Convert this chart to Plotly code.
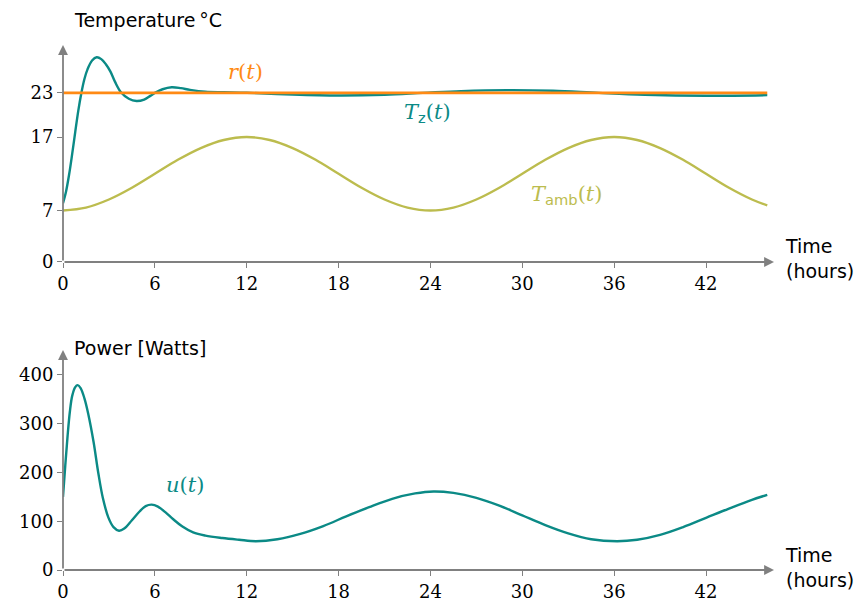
import plotly.graph_objects as go
from plotly.subplots import make_subplots

# ---------------- data ----------------
t_tz = [0, 0.2, 0.4, 0.6, 0.8, 1.0, 1.2, 1.4, 1.6, 1.9, 2.2, 2.5, 2.8, 3.1, 3.4, 3.8, 4.3, 4.8, 5.3, 5.7, 6.0, 6.5, 7.1, 7.7, 8.3, 9.3, 10.5, 12.0,
        15, 18, 21, 23.5, 26, 29, 32, 35, 38, 42, 46]
tz = [8.0, 9.6, 11.9, 14.7, 17.7, 20.6, 23.0, 24.9, 26.2, 27.4, 27.85, 27.6, 26.9, 25.9, 24.5, 23.05, 22.2, 21.9, 22.1, 22.6, 23.0, 23.5, 23.77, 23.65, 23.42, 23.17, 23.1, 23.03,
      22.78, 22.65, 22.75, 23.0, 23.25, 23.38, 23.3, 23.0, 22.75, 22.62, 22.7]

t_amb = [0, 1.5, 3, 4.5, 6, 7.5, 9, 10.5, 12, 13.5, 15, 16.5, 18, 19.5, 21, 22.5, 24,
         25.5, 27, 28.5, 30, 31.5, 33, 34.5, 36, 37.5, 39, 40.5, 42, 43.5, 45, 46]
tamb = [7.0, 7.4, 8.5, 10.1, 12.0, 13.9, 15.5, 16.6, 17.0, 16.6, 15.5, 13.9, 12.0, 10.1, 8.5, 7.4, 7.0,
        7.4, 8.5, 10.1, 12.0, 13.9, 15.5, 16.6, 17.0, 16.6, 15.5, 13.9, 12.0, 10.1, 8.5, 7.7]

t_r = [0, 46]
r = [23, 23]

t_u = [0, 0.15, 0.3, 0.45, 0.6, 0.8, 0.96, 1.15, 1.4, 1.65, 2.0, 2.3, 2.6, 2.96, 3.3, 3.66, 4.0, 4.5, 5.0, 5.4, 5.79, 6.2, 6.7, 7.2, 7.8, 8.5, 9.3, 10.4, 11.5, 12.6,
       14, 15.5, 17, 18.5, 20, 21.5, 23, 24.2, 25.5, 27, 28.5, 30, 31.5, 33, 34.5, 36.2, 37.5, 39, 40.5, 42, 43.5, 45, 46]
u = [150, 215, 275, 325, 357, 375, 379, 373, 352, 320, 262, 200, 148, 108, 88, 80.6, 85, 102, 120, 131, 134, 130, 118, 104, 89, 77, 70.5, 65.6, 62, 59,
     63, 74, 90, 110, 129, 146, 157, 161, 158, 148, 132, 112, 92, 75, 63, 59, 62, 72, 88, 107, 126, 144, 154]

x_ticks = [0, 6, 12, 18, 24, 30, 36, 42]
temp_ticks = [0, 7, 17, 23]
power_ticks = [0, 100, 200, 300, 400]

# ---------------- style ----------------
TEAL = "#0b8a86"
ORANGE = "#ff8a14"
OLIVE = "#bcbc4e"
GRAY = "#808080"
SERIF = "DejaVu Serif"
SANS = "DejaVu Sans"
XMAX = 46.44
Y1MAX = 29.52
Y2MAX = 451

fig = make_subplots(rows=2, cols=1, vertical_spacing=0.0)

spl = dict(shape="spline", smoothing=1.0)
fig.add_trace(go.Scatter(x=t_amb, y=tamb, mode="lines", line=dict(color=OLIVE, width=2.4, **spl)), row=1, col=1)
fig.add_trace(go.Scatter(x=t_tz, y=tz, mode="lines", line=dict(color=TEAL, width=2.4, **spl)), row=1, col=1)
fig.add_trace(go.Scatter(x=t_r, y=r, mode="lines", line=dict(color=ORANGE, width=2.6)), row=1, col=1)
fig.add_trace(go.Scatter(x=t_u, y=u, mode="lines", line=dict(color=TEAL, width=2.4, **spl)), row=2, col=1)

common_x = dict(range=[0, XMAX], tickvals=x_ticks, ticks="outside", ticklen=5, tickcolor=GRAY, tickwidth=1.3,
                showgrid=False, zeroline=False, showline=False, automargin=False,
                tickfont=dict(family=SERIF, size=18, color="black"))
common_y = dict(ticks="outside", ticklen=5, tickcolor=GRAY, tickwidth=1.3,
                showgrid=False, zeroline=False, showline=False, automargin=False,
                tickfont=dict(family=SERIF, size=18, color="black"))

fig.update_layout(
    width=856, height=603,
    margin=dict(l=63, r=82, t=45, b=33, autoexpand=False),
    plot_bgcolor="white", paper_bgcolor="white",
    showlegend=False,
    xaxis=dict(domain=[0, 1], anchor="y", **common_x),
    yaxis=dict(domain=[0.5867, 1], anchor="x", range=[0, Y1MAX], tickvals=temp_ticks, **common_y),
    xaxis2=dict(domain=[0, 1], anchor="y2", **common_x),
    yaxis2=dict(domain=[0, 0.419], anchor="x2", range=[0, Y2MAX], tickvals=power_ticks, **common_y),
)

ann = []
# axis arrows
for xr, yr, ytop in [("x", "y", Y1MAX), ("x2", "y2", Y2MAX)]:
    ann.append(dict(x=XMAX, y=0, ax=0, ay=0, xref=xr, yref=yr, axref=xr, ayref=yr,
                    showarrow=True, arrowhead=2, arrowsize=1.1, arrowwidth=1.8, arrowcolor=GRAY, text="", standoff=0))
    ann.append(dict(x=0, y=ytop, ax=0, ay=0, xref=xr, yref=yr, axref=xr, ayref=yr,
                    showarrow=True, arrowhead=2, arrowsize=1.1, arrowwidth=1.8, arrowcolor=GRAY, text="", standoff=0))
    ann.append(dict(x=XMAX, y=0, xref=xr, yref=yr, text="Time<br>(hours)", showarrow=False,
                    xanchor="left", yanchor="middle", align="left", xshift=9, yshift=3,
                    font=dict(family=SANS, size=19, color="black")))

ann.append(dict(x=0, y=Y1MAX, xref="x", yref="y", text="Temperature\u2009\u00b0C", showarrow=False,
                xanchor="left", yanchor="middle", xshift=9, yshift=25,
                font=dict(family=SANS, size=19, color="black")))
ann.append(dict(x=0, y=Y2MAX, xref="x2", yref="y2", text="Power [Watts]", showarrow=False,
                xanchor="left", yanchor="middle", xshift=9, yshift=2,
                font=dict(family=SANS, size=19, color="black")))

# series labels
LBL = 21
ann.append(dict(x=11.9, y=25.85, xref="x", yref="y", showarrow=False,
                text="<i>r</i>(<i>t</i>)", font=dict(family=SERIF, size=LBL, color=ORANGE)))
ann.append(dict(x=23.8, y=20.3, xref="x", yref="y", showarrow=False,
                text="<i>T</i><sub><span style='font-family:DejaVu Sans'>z</span></sub>(<i>t</i>)",
                font=dict(family=SERIF, size=LBL, color=TEAL)))
ann.append(dict(x=32.9, y=9.1, xref="x", yref="y", showarrow=False,
                text="<i>T</i><sub><span style='font-family:DejaVu Sans'>amb</span></sub>(<i>t</i>)",
                font=dict(family=SERIF, size=LBL, color=OLIVE)))
ann.append(dict(x=7.97, y=175, xref="x2", yref="y2", showarrow=False,
                text="<i>u</i>(<i>t</i>)", font=dict(family=SERIF, size=LBL, color=TEAL)))

fig.update_layout(annotations=ann)

fig.write_html("out.html")
